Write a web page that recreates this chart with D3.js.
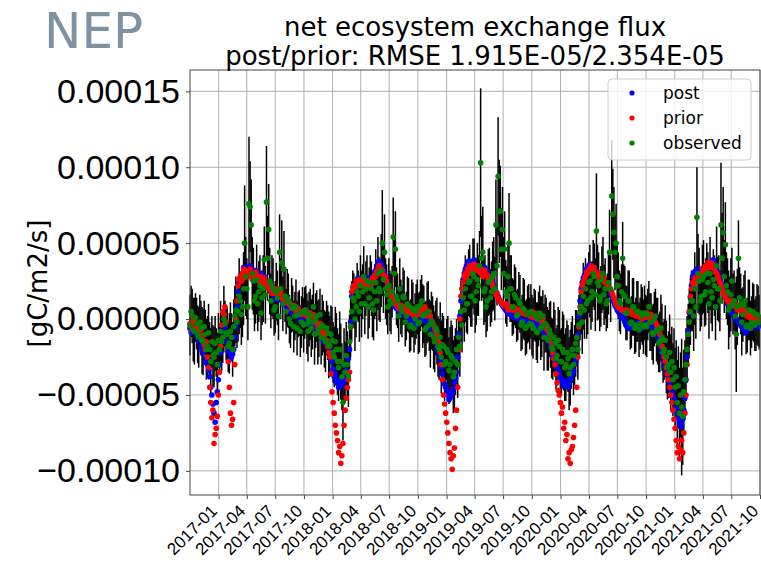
<!DOCTYPE html>
<html><head><meta charset="utf-8">
<script src="https://cdn.jsdelivr.net/npm/d3@7"></script>
<style>body{margin:0;background:#fff} svg{display:block;font-family:"DejaVu Sans",sans-serif}</style>
</head><body><svg id="c" width="761" height="563"></svg>
<script>
// half-weekly samples (every 84 hours) starting at this date; values in 1e-6 gC/m2/s
const startDate = "2016-10-01";
const stepHours = 84;

const prior = [
 -3,-5,-6,-1,-2,-6,-8,-4,-10,-12,-7,-11,-14,-17,-20,-15,-25,-32,-45,-55,-65,-60,-82,-76,-72,-64,
 -50,-35,-18,-4,5,3,8,-2,-10,-28,-45,-62,-70,-66,-55,-30,0,12,22,26,28,25,30,33,27,29,
 32,28,29,33,30,26,27,30,31,29,28,25,26,28,25,22,27,24,22,21,20,23,19,17,18,20,
 17,19,20,15,16,18,14,13,15,11,12,13,10,11,9,7,8,9,7,5,6,7,5,3,4,4,
 3,6,5,2,1,4,4,0,0,3,2,-1,-3,-6,-5,-3,-8,-11,-12,-9,-10,-14,-18,-22,-25,-36,
 -48,-55,-62,-70,-75,-80,-88,-84,-95,-90,-82,-70,-60,-52,-45,-40,-35,-5,18,21,22,19,25,22,23,26,
 26,24,22,25,24,20,21,23,25,22,23,27,26,29,28,31,33,35,30,33,32,29,27,28,25,22,
 20,17,15,14,12,11,10,11,9,7,8,9,7,6,8,5,6,7,5,4,4,5,3,2,2,4,
 6,3,4,7,7,4,5,8,6,2,3,5,2,-1,-2,-4,-6,-8,-10,-13,-16,-22,-30,-40,-50,-56,
 -62,-68,-75,-82,-88,-92,-99,-90,-85,-72,-60,-45,-20,0,15,20,24,28,30,27,33,30,35,32,31,34,
 36,33,32,35,34,31,30,33,28,30,32,29,29,26,27,25,25,22,20,18,16,17,14,12,12,11,
 10,9,9,10,8,6,7,8,8,6,6,7,7,5,5,6,6,4,4,5,5,3,3,4,4,2,
 3,5,1,3,4,1,0,2,2,-1,-2,0,-4,-3,-6,-5,-8,-10,-12,-16,-22,-26,-30,-36,-42,-47,
 -50,-55,-62,-58,-72,-68,-80,-76,-92,-88,-95,-86,-84,-78,-70,-60,-45,-25,-5,8,18,22,24,26,28,31,
 30,32,33,35,32,34,34,31,30,28,27,30,28,26,25,27,24,23,22,21,20,19,18,16,14,12,
 10,9,8,7,7,6,6,5,5,6,6,4,4,5,5,3,3,4,2,3,4,2,1,2,0,1,
 2,4,4,1,1,3,3,0,0,-1,-2,-4,-5,-8,-10,-14,-18,-22,-25,-28,-32,-36,-40,-45,-50,-55,
 -60,-66,-72,-80,-88,-84,-92,-86,-80,-88,-75,-62,-50,-30,-10,5,15,20,24,22,27,25,25,29,28,27,
 30,33,32,30,35,33,37,35,34,37,36,34,33,31,30,28,26,24,22,20,18,16,15,13,12,11,
 10,12,11,9,9,10,8,6,7,8,6,4,5,6,4,3,2,3,1,2,2,0,0,1,1,-1,0,1
];
const post = [
 -6,-9,-8,-4,-5,-9,-10,-12,-14,-12,-18,-21,-22,-19,-26,-29,-30,-34,-38,-45,-50,-56,-62,-68,-55,-48,
 -40,-30,-22,-14,-8,-11,-5,-9,-15,-19,-22,-26,-25,-23,-20,-12,-5,8,18,24,27,29,30,34,31,28,
 34,32,31,35,33,30,30,32,32,30,29,27,28,30,26,24,28,26,24,22,21,23,18,19,16,17,
 15,13,16,14,13,14,12,10,11,12,9,8,7,9,6,4,5,6,4,2,2,3,1,-1,0,1,
 -1,-3,0,-2,-3,-1,-2,-4,-5,-3,-4,-6,-7,-5,-8,-9,-10,-12,-14,-12,-16,-15,-18,-20,-22,-25,
 -28,-33,-38,-36,-42,-40,-45,-43,-40,-42,-44,-41,-38,-34,-30,-26,-20,-2,15,18,20,22,24,21,27,24,
 25,27,24,26,26,23,22,25,27,24,25,28,28,31,32,35,37,38,35,36,34,32,30,28,26,22,
 18,16,13,12,10,9,8,7,7,5,6,5,4,3,3,4,2,1,0,-1,-2,0,-3,-4,-5,-2,
 2,0,0,3,3,1,-1,1,0,-2,-3,-1,-5,-6,-8,-10,-12,-15,-18,-21,-24,-28,-32,-36,-40,-43,
 -45,-48,-50,-53,-52,-50,-48,-46,-42,-39,-35,-25,-10,2,12,20,26,30,33,35,36,38,38,36,34,37,
 39,36,35,33,33,35,32,34,30,32,34,32,31,29,28,27,26,24,22,20,18,17,15,13,12,10,
 9,8,7,6,5,4,4,3,3,2,2,1,1,2,2,0,0,-1,-1,-2,-2,-1,-3,-2,-2,-3,
 -2,-1,-4,-2,-1,-3,-5,-4,-3,-5,-7,-6,-9,-8,-12,-10,-15,-14,-18,-20,-24,-22,-28,-30,-32,-34,
 -36,-38,-40,-42,-44,-41,-42,-44,-45,-43,-40,-38,-36,-34,-30,-27,-20,-10,2,12,20,24,27,29,32,33,
 34,35,36,34,35,33,33,32,31,30,29,28,27,28,26,25,24,22,21,20,19,17,15,13,11,9,
 8,6,5,4,3,1,2,0,-2,-4,-5,-6,-6,-5,-4,-3,-3,-4,-5,-3,-2,-3,-4,-5,-6,-4,
 -3,-2,-1,-3,-4,-2,-2,-4,-6,-7,-8,-10,-12,-14,-16,-19,-22,-25,-28,-31,-34,-37,-40,-42,-45,-48,
 -50,-53,-55,-59,-62,-65,-68,-71,-70,-66,-60,-52,-40,-25,-8,4,14,22,28,30,31,32,33,31,30,29,
 29,30,31,32,33,34,34,35,36,37,38,39,37,35,32,30,28,26,24,22,20,18,16,13,10,8,
 6,5,4,3,2,1,0,-1,-2,-3,-4,-5,-6,-7,-8,-9,-7,-6,-5,-6,-6,-5,-4,-3,-3,-4,-5,-4
];
const observed = [
 -4,5,2,-7,-8,1,-3,-10,-12,-2,-6,-14,-15,-5,-10,-20,-18,-9,-20,-28,-15,-24,-25,-16,-22,-30,
 -14,-20,-8,-15,-12,0,-3,-9,-10,-18,-16,-8,-12,-20,-5,2,6,-2,5,15,12,3,8,20,50,28,
 20,8,76,74,62,30,25,12,15,26,10,18,22,4,14,20,39,16,77,40,59,25,12,22,20,6,
 8,18,14,2,44,20,37,10,33,15,5,14,12,0,-3,9,7,-5,2,8,-6,3,4,-8,-2,5,
 -4,4,6,-3,-8,0,3,-6,-2,8,-10,-1,2,-9,-6,3,-12,-4,-5,-13,-15,-6,-9,-17,-18,-10,
 -14,-22,-25,-15,-20,-28,-32,-20,-28,-38,-55,-30,-35,-24,-30,-38,-15,-5,5,14,12,0,8,18,15,5,
 22,10,18,28,10,20,25,8,14,24,20,10,6,18,24,12,30,20,18,32,50,26,44,20,16,8,
 22,12,10,18,54,30,46,15,12,2,20,8,5,15,14,-2,2,10,9,-5,-4,7,6,-6,0,5,
 8,-3,-2,9,12,2,3,-7,-6,4,5,-4,-10,-1,-3,-12,-15,-6,-8,-18,-20,-12,-25,-17,-18,-30,
 -28,-20,-22,-34,-30,-24,-26,-38,-35,-28,-20,-30,-12,-18,5,-4,14,6,20,10,10,24,25,15,15,30,
 28,12,18,26,22,35,103,40,44,18,20,8,12,24,25,14,18,28,30,20,62,35,94,71,71,46,
 59,30,46,18,15,28,50,20,20,8,8,16,14,2,3,12,10,-4,-2,7,6,-6,-5,3,4,-3,
 5,-4,-6,3,2,-8,-9,0,4,-6,-5,2,-12,-3,-4,-13,-14,-7,-10,-19,-20,-12,-16,-26,-24,-14,
 -18,-28,-28,-20,-22,-32,-30,-22,-26,-36,-32,-24,-20,-30,-24,-16,-12,-20,-4,4,8,-2,15,6,20,10,
 12,24,25,14,18,30,28,16,58,24,22,12,15,26,30,16,20,10,12,24,44,20,81,69,57,44,
 50,28,22,12,10,18,40,16,15,4,4,12,12,-3,-2,8,8,-6,-4,5,5,-7,-3,4,2,-5,
 4,-4,-5,3,8,-2,-2,-9,-10,0,2,-7,-8,-16,-15,-6,-12,-22,-20,-14,-25,-32,-30,-22,-35,-28,
 -40,-32,-45,-38,-55,-44,-62,-50,-58,-64,-48,-40,-30,-20,-10,-2,5,12,12,2,20,8,67,30,25,12,
 15,26,28,16,18,30,24,10,30,18,14,26,22,8,35,20,20,12,62,40,57,28,49,22,18,6,
 8,16,25,10,12,2,-10,8,40,14,10,-2,3,9,12,-5,-4,6,6,-6,-2,5,4,-4,-3,3,2,-2
];
const obsError = [
 20,17,18,21,22,16,17,19,20,18,18,22,22,17,16,20,20,19,18,22,17,20,20,18,16,21,
 18,17,20,19,17,22,15,18,18,17,20,19,16,18,18,20,22,17,20,25,18,20,20,24,38,26,
 20,22,44,30,30,24,22,20,18,23,18,20,20,18,18,22,22,19,37,28,30,22,18,20,20,17,
 17,19,18,16,25,20,28,18,25,17,15,19,18,16,16,18,15,17,16,18,18,15,15,17,17,16,
 18,17,16,20,20,18,17,19,18,16,20,18,17,21,19,17,18,20,17,19,20,18,18,22,20,19,
 22,20,20,23,24,22,22,25,25,22,25,24,20,22,22,20,18,20,20,18,18,21,20,19,17,20,
 20,22,18,20,20,18,17,21,20,18,18,22,20,18,22,20,24,21,20,24,35,22,25,20,20,18,
 18,20,20,17,26,22,25,19,18,17,20,18,17,19,18,16,16,18,18,17,17,19,18,16,17,18,
 18,20,20,17,17,21,19,18,18,20,20,17,22,19,18,21,20,18,22,20,20,23,24,21,20,24,
 22,20,24,22,25,23,22,24,24,22,20,22,18,20,20,18,18,21,22,19,20,22,24,20,20,23,
 25,21,22,24,20,23,49,28,30,22,22,20,20,22,22,19,20,23,24,21,30,26,39,34,30,27,
 28,24,25,21,20,22,33,22,22,19,18,20,20,17,17,19,19,17,18,20,20,18,18,19,19,17,
 18,20,20,17,17,19,20,18,18,21,20,17,22,19,18,21,20,18,22,20,20,23,22,20,20,22,
 24,21,22,25,25,22,24,21,22,24,25,22,22,20,20,22,18,20,20,18,18,21,22,19,20,23,
 22,20,24,21,20,22,22,24,38,25,22,20,20,22,24,20,20,18,18,21,28,22,37,30,30,25,
 26,22,22,20,20,18,24,20,20,18,18,20,20,17,17,19,19,17,18,20,20,18,17,19,19,18,
 18,20,20,17,17,19,19,18,20,18,18,21,22,19,20,22,22,20,20,23,24,21,22,25,25,23,
 24,26,26,24,28,26,30,28,45,32,28,26,24,22,20,22,22,20,20,23,24,21,33,26,22,20,
 20,23,24,21,22,20,20,23,24,21,22,20,20,22,26,21,22,20,41,30,30,24,28,22,22,26,
 20,24,22,20,20,22,38,25,25,20,20,22,18,20,20,18,18,20,20,18,17,19,19,17,18,20,20,18
];
const xTickLabels = ["2017-01","2017-04","2017-07","2017-10","2018-01","2018-04","2018-07","2018-10",
 "2019-01","2019-04","2019-07","2019-10","2020-01","2020-04","2020-07","2020-10",
 "2021-01","2021-04","2021-07","2021-10"];
const yTicks = [-100,-50,0,50,100,150];
const yTickLabels = ["\u22120.00010","\u22120.00005","0.00000","0.00005","0.00010","0.00015"];
const seriesNames = ["post","prior","observed"];
const seriesColors = ["#0000ff","#ff0000","#008000"];

const svg = d3.select("#c");
const L = 190, R = 760, T = 70, B = 495;
const parse = d3.utcParse("%Y-%m-%d");
const parseM = d3.utcParse("%Y-%m");
const t0 = parse(startDate);
const dates = observed.map((_, i) => d3.utcHour.offset(t0, i * stepHours));

const x = d3.scaleUtc().domain([parse("2016-10-01"), parse("2021-10-01")]).range([L, R]);
const y = d3.scaleLinear().domain([-115.9, 164.05]).range([B, T]);

// grid
const gGrid = svg.append("g");
gGrid.selectAll("line.gx").data(xTickLabels).join("line")
  .attr("x1", d => x(parseM(d))).attr("x2", d => x(parseM(d)))
  .attr("y1", T).attr("y2", B).attr("stroke", "#b0b0b0").attr("stroke-width", 1);
gGrid.selectAll("line.gy").data(yTicks).join("line")
  .attr("x1", L).attr("x2", R).attr("y1", d => y(d)).attr("y2", d => y(d))
  .attr("stroke", "#b0b0b0").attr("stroke-width", 1);

const plot = svg.append("g");
// error bars (observed ± error)
plot.selectAll("line.err").data(observed).join("line")
  .attr("x1", (d, i) => x(dates[i])).attr("x2", (d, i) => x(dates[i]))
  .attr("y1", (d, i) => y(d - obsError[i])).attr("y2", (d, i) => y(d + obsError[i]))
  .attr("stroke", "#000").attr("stroke-width", 1.5);

const seriesData = [post, prior, observed];
seriesData.forEach((arr, s) => {
  plot.append("g").selectAll("circle").data(arr).join("circle")
    .attr("cx", (d, i) => x(dates[i])).attr("cy", d => y(d)).attr("r", 2.8)
    .attr("fill", seriesColors[s]);
});

// axes
const xAxis = d3.axisBottom(x).tickValues(xTickLabels.map(parseM)).tickFormat((d, i) => xTickLabels[i]).tickSize(4).tickPadding(6);
const gx = svg.append("g").attr("transform", `translate(0,${B})`).call(xAxis);
gx.select(".domain").remove();
gx.selectAll(".tick line").attr("stroke", "#444");
gx.selectAll(".tick text").attr("font-size", 17).attr("fill", "#000")
  .attr("text-anchor", "end").attr("dy", null).attr("y", 0)
  .attr("transform", "translate(-1,17) rotate(-45)");

const yAxis = d3.axisLeft(y).tickValues(yTicks).tickFormat((d, i) => yTickLabels[i]).tickSize(4).tickPadding(6);
const gy = svg.append("g").attr("transform", `translate(${L},0)`).call(yAxis);
gy.select(".domain").remove();
gy.selectAll(".tick line").attr("stroke", "#444");
gy.selectAll(".tick text").attr("font-size", 34).attr("fill", "#000");

svg.append("rect").attr("x", L).attr("y", T).attr("width", R - L).attr("height", B - T)
  .attr("fill", "none").attr("stroke", "#444").attr("stroke-width", 1);

// labels
svg.append("text").attr("transform", `translate(47,${(T + B) / 2 + 1}) rotate(-90)`)
  .attr("text-anchor", "middle").attr("font-size", 26).text("[gC/m2/s]");
svg.append("text").attr("x", (L + R) / 2).attr("y", 36).attr("text-anchor", "middle")
  .attr("font-size", 26).text("net ecosystem exchange flux");
svg.append("text").attr("x", (L + R) / 2).attr("y", 65).attr("text-anchor", "middle")
  .attr("font-size", 26).text("post/prior: RMSE 1.915E-05/2.354E-05");
svg.append("text").attr("x", 44).attr("y", 48).attr("font-size", 50)
  .attr("fill", "#7d93a4").text("NEP");

// legend
const lg = svg.append("g");
lg.append("rect").attr("x", 608).attr("y", 79).attr("width", 143).attr("height", 81)
  .attr("rx", 4).attr("fill", "#fff").attr("fill-opacity", 0.8).attr("stroke", "#cccccc");
seriesNames.forEach((n, i) => {
  const yy = 93 + i * 25;
  lg.append("circle").attr("cx", 632).attr("cy", yy).attr("r", 2.6).attr("fill", seriesColors[i]);
  lg.append("text").attr("x", 663).attr("y", yy).attr("dy", "0.35em").attr("font-size", 17).text(n);
});
</script></body></html>
